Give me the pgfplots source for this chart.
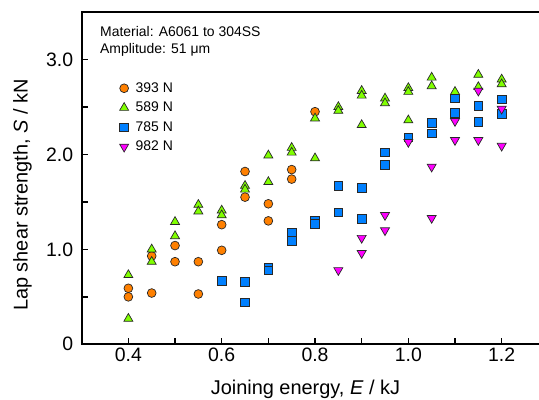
\documentclass[border=0pt]{standalone}
\usepackage{fontspec}
\setmainfont{Liberation Sans}
\usepackage{pgfplots}
\pgfplotsset{compat=1.18}
\usetikzlibrary{calc}
\definecolor{corange}{RGB}{255,128,0}
\definecolor{cgreen}{RGB}{128,255,0}
\definecolor{cblue}{RGB}{0,128,255}
\definecolor{cmag}{RGB}{255,0,255}
\definecolor{cedge}{RGB}{40,40,40}
\begin{document}
\begin{tikzpicture}
\begin{axis}[name=ax, scale only axis, width=457.3bp, height=332.3bp,
 xmin=0.3, xmax=1.28, ymin=0, ymax=3.5, clip=false,
 axis lines=left, axis line style={draw=none},
 xtick={0.4,0.5,0.6,0.7,0.8,0.9,1.0,1.1,1.2},
 xticklabels={0.4,,0.6,,0.8,,1.0,,1.2},
 ytick={0,0.5,1,1.5,2,2.5,3},
 yticklabels={0,,1.0,,2.0,,3.0},
 tick align=inside, major tick length=6bp,
 tick style={line width=1.5bp, black},
 tick label style={font=\fontsize{19.5}{22}\selectfont},
 yticklabel style={xshift=-5bp},
 xlabel={Joining energy, \textit{E} / kJ},
 ylabel={Lap shear strength, \textit{S} / kN},
 every axis x label/.style={at={(axis description cs:0.4892,-0.150)}, anchor=base, font=\fontsize{20}{24}\selectfont},
 every axis y label/.style={at={(axis description cs:-0.1185,0.449)}, anchor=base, rotate=90, font=\fontsize{20}{24}\selectfont},
 legend style={draw=none, fill=none, at={(axis description cs:0.076,0.800)}, anchor=north west, font=\fontsize{14}{16}\selectfont, row sep=4.3bp, /tikz/every odd column/.append style={column sep=5bp}},
 legend cell align=left,
]
\addplot[only marks, mark=*, mark size=4.4bp, mark options={fill=corange, draw=cedge, line width=0.7bp}] coordinates {
(0.40,0.59)(0.40,0.50)(0.45,0.93)(0.45,0.54)(0.50,1.04)(0.50,0.87)(0.55,0.87)(0.55,0.53)(0.60,1.26)(0.60,0.99)(0.65,1.82)(0.65,1.55)(0.70,1.48)(0.70,1.30)(0.75,1.84)(0.75,1.74)(0.80,2.45)
};
\addlegendentry{393 N}
\addplot[only marks, mark=triangle*, mark size=5.2bp, mark options={fill=cgreen, draw=cedge, line width=0.7bp}] coordinates {
(0.40,0.73)(0.40,0.27)(0.45,1.00)(0.45,0.87)(0.50,1.29)(0.50,1.14)(0.55,1.47)(0.55,1.40)(0.60,1.41)(0.60,1.36)(0.65,1.67)(0.65,1.63)(0.70,1.99)(0.70,1.71)(0.75,2.07)(0.75,2.02)(0.80,2.38)(0.80,1.96)(0.85,2.50)(0.85,2.46)(0.90,2.67)(0.90,2.62)(0.90,2.31)(0.95,2.59)(0.95,2.54)(1.00,2.70)(1.00,2.66)(1.00,2.36)(1.05,2.81)(1.05,2.72)(1.10,2.66)(1.15,2.84)(1.15,2.71)(1.20,2.79)(1.20,2.74)
};
\addlegendentry{589 N}
\addplot[only marks, mark=square*, mark size=4.3bp, mark options={fill=cblue, draw=cedge, line width=0.7bp}] coordinates {
(0.60,0.67)(0.65,0.66)(0.65,0.44)(0.70,0.81)(0.70,0.78)(0.75,1.18)(0.75,1.09)(0.80,1.30)(0.80,1.27)(0.85,1.67)(0.85,1.39)(0.90,1.65)(0.90,1.32)(0.95,2.02)(0.95,1.89)(1.00,2.18)(1.05,2.33)(1.05,2.22)(1.10,2.59)(1.10,2.44)(1.15,2.51)(1.15,2.34)(1.20,2.58)(1.20,2.43)
};
\addlegendentry{785 N}
\addplot[only marks, mark=triangle*, mark size=5.2bp, mark options={rotate=180, fill=cmag, draw=cedge, line width=0.7bp}] coordinates {
(0.85,0.78)(0.90,1.12)(0.90,0.96)(0.95,1.36)(0.95,1.20)(1.00,2.13)(1.05,1.87)(1.05,1.33)(1.10,2.35)(1.10,2.15)(1.15,2.67)(1.15,2.15)(1.20,2.48)(1.20,2.09)
};
\addlegendentry{982 N}
\draw[line width=1.8bp, line join=miter] (rel axis cs:1,1) -- (rel axis cs:0,1) -- (rel axis cs:0,0) -- (rel axis cs:1,0);
\node[anchor=base west, inner sep=0pt, font=\fontsize{14}{16}\selectfont] at (axis description cs:0.040,0.9257) {Material: A6061 to 304SS};
\node[anchor=base west, inner sep=0pt, font=\fontsize{14}{16}\selectfont] at (axis description cs:0.040,0.8757) {Amplitude: 51 μm};
\end{axis}
\pgfresetboundingbox
\path ($(ax.south west)+(-81.7bp,-54.7bp)$) rectangle ($(ax.north east)+(0bp,12bp)$);
\end{tikzpicture}
\end{document}
